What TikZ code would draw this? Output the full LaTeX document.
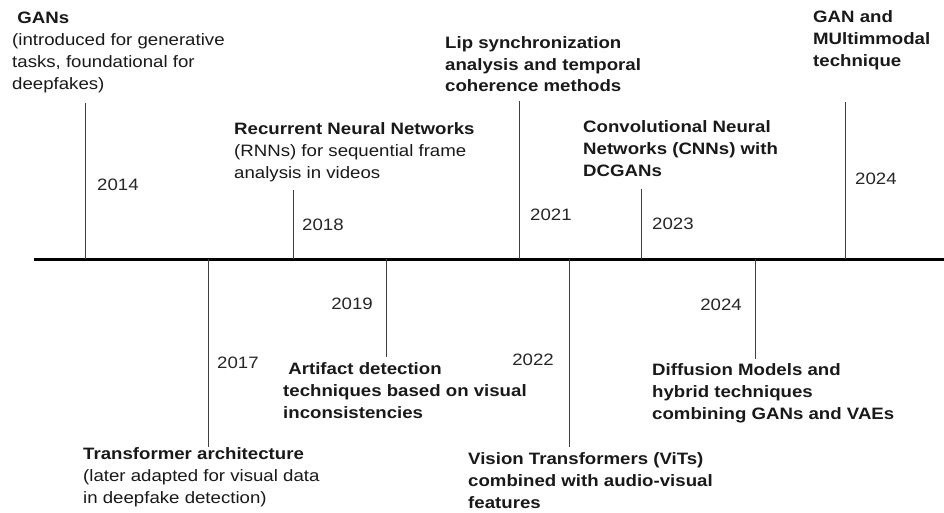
\documentclass[tikz,border=0pt]{standalone}
\usepackage{fontspec}
\setmainfont{Liberation Sans}[FakeStretch=1.13]
\usepackage{tikz}

\begin{document}
\begin{tikzpicture}[x=1pt, y=1pt,
  event/.style={align=left, anchor=base west, inner sep=0pt, text=black!90, font=\fontsize{16.5}{22}\selectfont},
  year/.style={inner sep=0pt, text=black!85, font=\fontsize{16.5}{22}\selectfont},
  tick/.style={draw=black!75, line width=1pt}]
  \useasboundingbox (0,0) rectangle (944,513);

  % time axis
  \coordinate (start) at (34,253.5);
  \coordinate (stop) at (944,253.5);
  \draw[line width=3.5pt] (start) -- (stop);

  % ticks above the axis
  \coordinate (on14) at (85,253.5);    \coordinate (up14) at (85,410);
  \coordinate (on18) at (293,253.5);   \coordinate (up18) at (293,323);
  \coordinate (on21) at (519.5,253.5); \coordinate (up21) at (519.5,412);
  \coordinate (on23) at (641,253.5);   \coordinate (up23) at (641,324);
  \coordinate (on24a) at (845,253.5);  \coordinate (up24a) at (845,411);
  \draw[tick] (on14) -- (up14);
  \draw[tick] (on18) -- (up18);
  \draw[tick] (on21) -- (up21);
  \draw[tick] (on23) -- (up23);
  \draw[tick] (on24a) -- (up24a);

  % ticks below the axis
  \coordinate (on17) at (208.5,253.5); \coordinate (dn17) at (208.5,66);
  \coordinate (on19) at (386,253.5);   \coordinate (dn19) at (386,156);
  \coordinate (on22) at (569,253.5);   \coordinate (dn22) at (569,66);
  \coordinate (on24b) at (755.5,253.5); \coordinate (dn24b) at (755.5,154);
  \draw[tick] (on17) -- (dn17);
  \draw[tick] (on19) -- (dn19);
  \draw[tick] (on22) -- (dn22);
  \draw[tick] (on24b) -- (dn24b);

  % years
  \node[year, anchor=base west] (y14) at (97,322.3) {2014};
  \node[year, anchor=base west] (y18) at (302,282) {2018};
  \node[year, anchor=base west] (y21) at (530,292.5) {2021};
  \node[year, anchor=base west] (y23) at (652,283) {2023};
  \node[year, anchor=base west] (y24a) at (855,328) {2024};
  \node[year, anchor=base west] (y17) at (217,144) {2017};
  \node[year, anchor=base east] (y19) at (373,203) {2019};
  \node[year, anchor=base east] (y22) at (554,147) {2022};
  \node[year, anchor=base east] (y24b) at (742,202.5) {2024};

  % events above (placed by the baseline of their last line)
  \node[event] (gans) at (12,423) {\ \textbf{GANs}\\ (introduced for generative\\ tasks, foundational for\\ deepfakes)};
  \node[event] (rnn) at (234,334) {\textbf{Recurrent Neural Networks}\\ (RNNs) for sequential frame\\ analysis in videos};
  \node[event, font=\fontsize{16.5}{21.5}\selectfont\bfseries] (lip) at (445,421) {Lip synchronization\\ analysis and temporal\\ coherence methods};
  \node[event, font=\fontsize{16.5}{22}\selectfont\bfseries] (cnn) at (583,336) {Convolutional Neural\\ Networks (CNNs) with\\ DCGANs};
  \node[event, font=\fontsize{16.5}{22}\selectfont\bfseries] (multi) at (813,446.5) {GAN and\\ MUltimmodal\\ technique};

  % events below
  \node[event, font=\fontsize{16.5}{22}\selectfont\bfseries] (artifact) at (283,94) {\ Artifact detection\\ techniques based on visual\\ inconsistencies};
  \node[event] (transf) at (83,9) {\textbf{Transformer architecture}\\ (later adapted for visual data\\ in deepfake detection)};
  \node[event, font=\fontsize{16.5}{22}\selectfont\bfseries] (vit) at (468,4) {Vision Transformers (ViTs)\\ combined with audio-visual\\ features};
  \node[event, font=\fontsize{16.5}{22}\selectfont\bfseries] (diff) at (652,93) {Diffusion Models and\\ hybrid techniques\\ combining GANs and VAEs};
\end{tikzpicture}
\end{document}
